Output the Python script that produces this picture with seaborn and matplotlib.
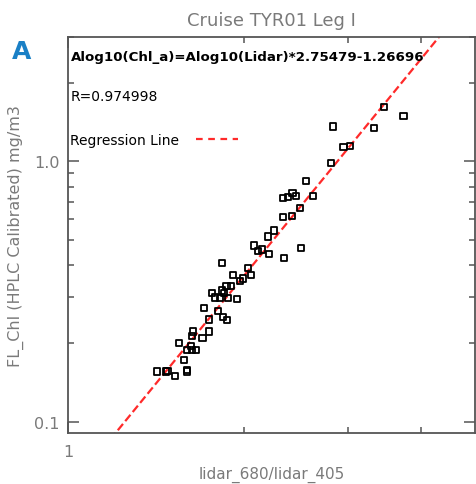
import numpy as np
import pandas as pd
import matplotlib
matplotlib.use("Agg")
import matplotlib.pyplot as plt
from matplotlib.ticker import LogLocator, FixedLocator, FixedFormatter, NullFormatter
from matplotlib.lines import Line2D
import seaborn as sns

# ---- data ----
lidar_ratio = [3.466, 3.739, 2.829, 3.328, 2.953, 3.028, 2.814, 2.548, 2.331, 2.377,
               2.417, 2.449, 2.622, 2.488, 2.331, 2.408, 2.498, 2.337, 2.247, 2.194,
               2.080, 2.113, 2.146, 2.200, 1.829, 2.026, 1.912, 2.050, 1.992, 1.968,
               1.865, 1.900, 1.834, 1.763, 1.784, 1.820, 1.878, 1.940, 1.846, 1.707,
               1.805, 1.742, 1.839, 1.870, 1.633, 1.738, 1.628, 1.697, 1.549, 1.624,
               1.598, 1.654, 1.630, 1.579, 1.419, 1.470, 1.479, 1.525, 1.594, 1.598]
chl = [1.621, 1.492, 1.359, 1.346, 1.132, 1.145, 0.982, 0.838, 0.721, 0.730,
       0.754, 0.734, 0.736, 0.662, 0.610, 0.617, 0.464, 0.425, 0.542, 0.514,
       0.475, 0.452, 0.458, 0.439, 0.406, 0.390, 0.366, 0.366, 0.355, 0.348,
       0.331, 0.331, 0.319, 0.313, 0.300, 0.298, 0.298, 0.296, 0.313, 0.274,
       0.267, 0.247, 0.253, 0.246, 0.222, 0.222, 0.213, 0.210, 0.201, 0.195,
       0.189, 0.189, 0.188, 0.173, 0.156, 0.156, 0.157, 0.150, 0.158, 0.156]
slope = 2.75479
intercept = -1.26696
r_value = 0.974998
x_limits = [1.0, 4.95]
y_limits = [0.0905, 3.0]
y_major = [0.1, 1.0]
y_major_labels = ["0.1", "1.0"]
x_major = [1.0]
x_major_labels = ["1"]

df = pd.DataFrame({"lidar": lidar_ratio, "chl": chl})
line_x = np.array(x_limits)
line_df = pd.DataFrame({"lidar": line_x,
                        "chl": 10 ** (np.log10(line_x) * slope + intercept)})

sns.set_style("ticks")
plt.rcParams["font.family"] = ["DejaVu Sans"]

fig = plt.figure(figsize=(4.76, 4.85), dpi=100)
ax = fig.add_axes([68 / 476, 51 / 485, 407 / 476, 396 / 485])

sns.scatterplot(data=df, x="lidar", y="chl", ax=ax, marker="s", s=20,
                facecolor="none", edgecolor="black", linewidth=1.3, zorder=3)
sns.lineplot(data=line_df, x="lidar", y="chl", ax=ax, color="#ff2a2a",
             linewidth=1.6, dashes=(3, 2.5), linestyle="--", zorder=2,
             estimator=None, sort=False)

ax.set_xscale("log")
ax.set_yscale("log")
ax.set_xlim(*x_limits)
ax.set_ylim(*y_limits)

ax.yaxis.set_major_locator(FixedLocator(y_major))
ax.yaxis.set_major_formatter(FixedFormatter(y_major_labels))
ax.yaxis.set_minor_locator(LogLocator(base=10, subs=np.arange(2, 10)))
ax.yaxis.set_minor_formatter(NullFormatter())
ax.xaxis.set_major_locator(FixedLocator(x_major))
ax.xaxis.set_major_formatter(FixedFormatter(x_major_labels))
ax.xaxis.set_minor_locator(LogLocator(base=10, subs=np.arange(2, 10)))
ax.xaxis.set_minor_formatter(NullFormatter())

grey = "#7a7a7a"
spine_col = "#555555"
for sp in ax.spines.values():
    sp.set_visible(True)
    sp.set_color(spine_col)
    sp.set_linewidth(1.3)

ax.tick_params(which="both", direction="in", top=True, right=True,
               color=spine_col, width=1.1, labelcolor=grey, labelsize=11.5)
ax.tick_params(which="major", length=8)
ax.tick_params(which="minor", length=4.5)
ax.tick_params(axis="y", pad=6)
ax.tick_params(axis="x", pad=8)

ax.set_xlabel("lidar_680/lidar_405", color=grey, fontsize=11)
ax.xaxis.set_label_coords(0.5, -0.083)
ax.set_ylabel("FL_Chl (HPLC Calibrated) mg/m3", color=grey, fontsize=11.5)
ax.yaxis.set_label_coords(-0.108, 0.5)
ax.set_title("Cruise TYR01 Leg I", color=grey, fontsize=13, pad=9)

ax.text(0.006, 0.950, "Alog10(Chl_a)=Alog10(Lidar)*2.75479-1.26696",
        transform=ax.transAxes, fontsize=9.6, fontweight="bold",
        color="black", va="center", ha="left")
ax.text(0.006, 0.852, f"R={r_value}", transform=ax.transAxes, fontsize=10,
        color="black", va="center", ha="left")

handle = Line2D([], [], color="#ff2a2a", linewidth=1.6, linestyle=(0, (3, 2.5)))
ax.legend([handle], ["Regression Line"], loc="center left",
          bbox_to_anchor=(-0.025, 0.741), frameon=False, markerfirst=False,
          handlelength=3.0, handletextpad=1.2, fontsize=10, labelcolor="black")

fig.text(12 / 476, 1 - 52 / 485, "A", color="#1a80c6", fontsize=18,
         fontweight="bold", va="center", ha="left")

fig.savefig("out.png", dpi=100)
